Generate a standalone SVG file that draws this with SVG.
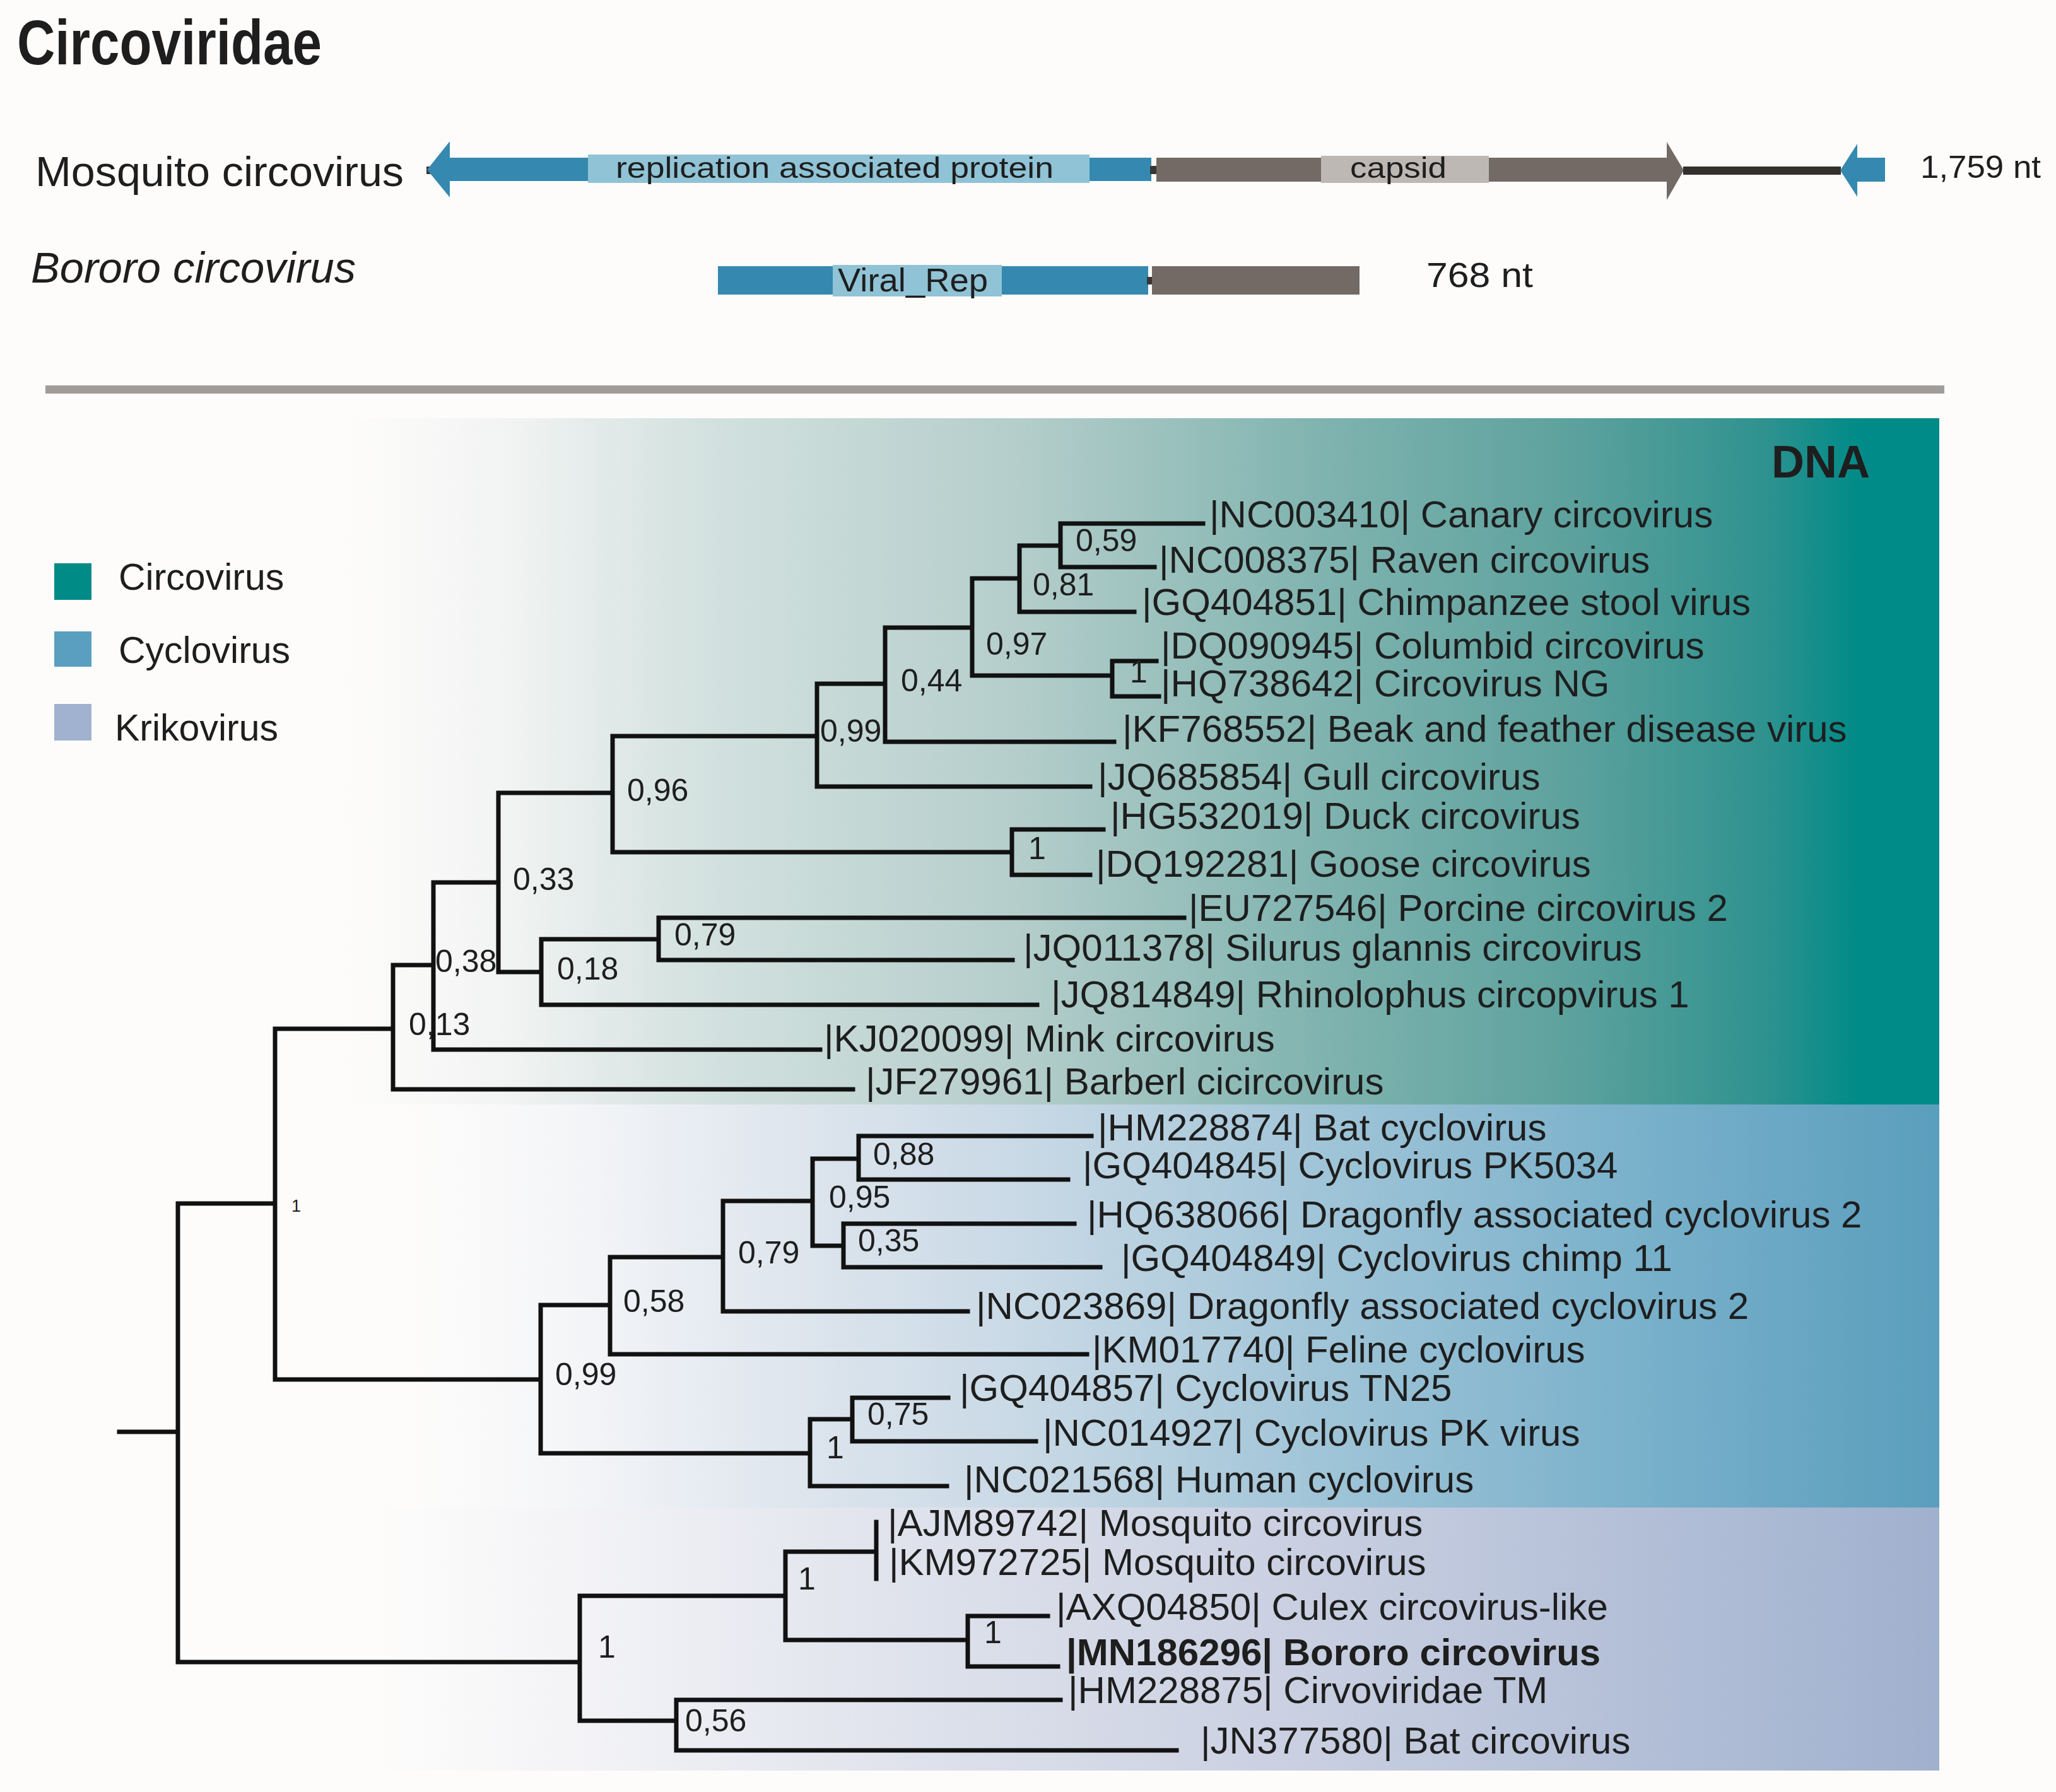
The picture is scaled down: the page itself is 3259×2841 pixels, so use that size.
<svg xmlns="http://www.w3.org/2000/svg" width="3259" height="2841" viewBox="0 0 3259 2841">
<defs>
<style>
.t{font-family:"Liberation Sans",Arial,sans-serif;fill:#1e1e1e}
.leaf{font-family:"Liberation Sans",Arial,sans-serif;font-size:60px;fill:#1e1e1e}
.sup{font-family:"Liberation Sans",Arial,sans-serif;font-size:50px;fill:#1e1e1e}
.small{font-family:"Liberation Sans",Arial,sans-serif;font-size:27px;fill:#1e1e1e}
.br{stroke:#111;stroke-width:7;fill:none;stroke-linecap:square}
.blue{fill:#3589b0}
.lblue{fill:#90c3d5}
.grey{fill:#736a65}
</style>
<linearGradient id="gTeal" gradientUnits="userSpaceOnUse" x1="545" y1="0" x2="3074" y2="0">
<stop offset="0" stop-color="#fdfcfb"/>
<stop offset="0.10" stop-color="#f2f4f3"/>
<stop offset="0.22" stop-color="#d4e2e0"/>
<stop offset="0.42" stop-color="#b5cecb"/>
<stop offset="0.615" stop-color="#7fb3af"/>
<stop offset="0.773" stop-color="#5ca19d"/>
<stop offset="0.89" stop-color="#2f928f"/>
<stop offset="0.95" stop-color="#008b88"/>
<stop offset="1" stop-color="#008b88"/>
</linearGradient>
<linearGradient id="gCyclo" gradientUnits="userSpaceOnUse" x1="650" y1="0" x2="3074" y2="0">
<stop offset="0" stop-color="#fdfcfb"/>
<stop offset="0.10" stop-color="#f5f6f8"/>
<stop offset="0.245" stop-color="#dfe6ee"/>
<stop offset="0.41" stop-color="#c7d8e5"/>
<stop offset="0.60" stop-color="#9fc4d7"/>
<stop offset="0.80" stop-color="#7ab1cb"/>
<stop offset="1" stop-color="#5a9ebd"/>
</linearGradient>
<linearGradient id="gKriko" gradientUnits="userSpaceOnUse" x1="600" y1="0" x2="3074" y2="0">
<stop offset="0" stop-color="#fdfcfb"/>
<stop offset="0.12" stop-color="#f4f4f7"/>
<stop offset="0.32" stop-color="#e1e4ed"/>
<stop offset="0.57" stop-color="#cbd1e2"/>
<stop offset="0.81" stop-color="#b3bfd7"/>
<stop offset="1" stop-color="#a0b1ce"/>
</linearGradient>
</defs>

<rect x="0" y="0" width="3259" height="2841" fill="#fdfcfb"/>

<!-- Title -->
<g id="title">
<text class="t" x="27" y="102" font-size="100" font-weight="bold" textLength="483" lengthAdjust="spacingAndGlyphs" fill="#111">Circoviridae</text>
</g>

<!-- Genome maps -->
<g id="mosquito-genome">
<text class="t" x="56" y="295" font-size="67" textLength="584" lengthAdjust="spacingAndGlyphs">Mosquito circovirus</text>
<rect x="676" y="264" width="9" height="12" fill="#3a3632"/>
<polygon class="blue" points="677,269 713,224 713,313"/>
<rect class="blue" x="712" y="250" width="1113" height="37"/>
<rect class="lblue" x="932" y="245" width="795" height="45"/>
<text class="t" x="976" y="282" font-size="46" textLength="694" lengthAdjust="spacingAndGlyphs">replication associated protein</text>
<rect x="1823" y="263" width="12" height="13" fill="#3a3632"/>
<rect class="grey" x="1833" y="250" width="810" height="38"/>
<rect x="2094" y="247" width="266" height="43" fill="#bdb8b3"/>
<text class="t" x="2140" y="282" font-size="46" textLength="153" lengthAdjust="spacingAndGlyphs">capsid</text>
<polygon class="grey" points="2642,225 2669,270 2642,317"/>
<rect x="2668" y="264" width="250" height="13" fill="#34302b"/>
<polygon class="blue" points="2917,270 2944,228 2944,312"/>
<rect class="blue" x="2943" y="250" width="45" height="38"/>
<text class="t" x="3044" y="282" font-size="50" textLength="191" lengthAdjust="spacingAndGlyphs">1,759 nt</text>
</g>

<g id="bororo-genome">
<text class="t" x="49" y="448" font-size="68" font-style="italic" textLength="515" lengthAdjust="spacingAndGlyphs">Bororo circovirus</text>
<rect class="blue" x="1138" y="422" width="682" height="45"/>
<rect class="lblue" x="1320" y="420" width="268" height="50"/>
<text class="t" x="1328" y="462" font-size="52" textLength="238" lengthAdjust="spacingAndGlyphs">Viral_Rep</text>
<rect x="1818" y="439" width="10" height="12" fill="#3a3632"/>
<rect class="grey" x="1826" y="422" width="329" height="45"/>
<text class="t" x="2261" y="455" font-size="56" textLength="169" lengthAdjust="spacingAndGlyphs">768 nt</text>
</g>

<!-- Separator -->
<rect id="separator" x="72" y="611" width="3010" height="13" fill="#a29c98"/>

<!-- Clade bands -->
<g id="bands">
<rect id="band-circovirus" x="545" y="663" width="2529" height="1088" fill="url(#gTeal)"/>
<rect id="band-cyclovirus" x="650" y="1751" width="2424" height="639" fill="url(#gCyclo)"/>
<rect id="band-krikovirus" x="600" y="2390" width="2474" height="417" fill="url(#gKriko)"/>
<text class="t" x="2808" y="757" font-size="72" font-weight="bold" fill="#2a2826">DNA</text>
</g>

<!-- Legend -->
<g id="legend">
<g id="legend-circovirus">
<rect x="86" y="893" width="59" height="58" fill="#008b87"/>
<text class="t" x="188" y="935" font-size="59">Circovirus</text>
</g>
<g id="legend-cyclovirus">
<rect x="86" y="1001" width="59" height="56" fill="#5a9fbf"/>
<text class="t" x="188" y="1051" font-size="59">Cyclovirus</text>
</g>
<g id="legend-krikovirus">
<rect x="86" y="1116" width="59" height="58" fill="#a0b2cf"/>
<text class="t" x="182" y="1174" font-size="59">Krikovirus</text>
</g>
</g>

<!-- Tree branches -->
<g id="connectors">
<path class="br" d="
M189 2270 H282 M282 1908 V2635
M282 1908 H436 M436 1631 V2187
M436 1631 H623 M623 1530 V1727
M623 1530 H687 M687 1399 V1664
M687 1399 H790 M790 1257 V1541
M790 1257 H971 M971 1167 V1351
M971 1167 H1295 M1295 1084 V1247
M1295 1084 H1403 M1403 995 V1176
M1403 995 H1541 M1541 917 V1071
M1541 917 H1616 M1616 865 V970
M1616 865 H1681 M1681 830 V899
M1681 830 H1907
M1681 899 H1830
M1616 970 H1798
M1541 1071 H1763 M1763 1048 V1104
M1763 1048 H1833
M1763 1104 H1837
M1403 1176 H1766
M1295 1247 H1728
M971 1351 H1604 M1604 1315 V1387
M1604 1315 H1749
M1604 1387 H1728
M790 1541 H858 M858 1489 V1593
M858 1489 H1044 M1044 1455 V1522
M1044 1455 H1877
M1044 1522 H1605
M858 1593 H1644
M687 1664 H1300
M623 1727 H1352
M436 2187 H857 M857 2069 V2304
M857 2069 H967 M967 1993 V2147
M967 1993 H1146 M1146 1904 V2079
M1146 1904 H1288 M1288 1837 V1975
M1288 1837 H1361 M1361 1801 V1870
M1361 1801 H1730
M1361 1870 H1693
M1288 1975 H1337 M1337 1940 V2009
M1337 1940 H1703
M1337 2009 H1744
M1146 2079 H1534
M967 2147 H1723
M857 2304 H1284 M1284 2250 V2356
M1284 2250 H1351 M1351 2216 V2285
M1351 2216 H1503
M1351 2285 H1642
M1284 2356 H1501
M282 2635 H919 M919 2530 V2728
M919 2530 H1245 M1245 2460 V2600
M1245 2460 H1389 M1389 2413 V2503
M1245 2600 H1534 M1534 2562 V2642
M1534 2562 H1661
M1534 2642 H1677
M919 2728 H1072 M1072 2695 V2775
M1072 2695 H1681
M1072 2775 H1865"/>
</g>

<!-- Support values -->
<g id="support-values">
<text class="sup" x="1705" y="874">0,59</text>
<text class="sup" x="1637" y="944">0,81</text>
<text class="sup" x="1563" y="1038">0,97</text>
<text class="sup" x="1791" y="1082">1</text>
<text class="sup" x="1428" y="1096">0,44</text>
<text class="sup" x="1300" y="1176">0,99</text>
<text class="sup" x="994" y="1270">0,96</text>
<text class="sup" x="1630" y="1362">1</text>
<text class="sup" x="813" y="1411">0,33</text>
<text class="sup" x="1069" y="1499">0,79</text>
<text class="sup" x="690" y="1541">0,38</text>
<text class="sup" x="883" y="1553">0,18</text>
<text class="sup" x="648" y="1641">0,13</text>
<text class="small" x="462" y="1921">1</text>
<text class="sup" x="1384" y="1847">0,88</text>
<text class="sup" x="1314" y="1915">0,95</text>
<text class="sup" x="1360" y="1984">0,35</text>
<text class="sup" x="1170" y="2003">0,79</text>
<text class="sup" x="988" y="2080">0,58</text>
<text class="sup" x="880" y="2196">0,99</text>
<text class="sup" x="1375" y="2259">0,75</text>
<text class="sup" x="1310" y="2312">1</text>
<text class="sup" x="1265" y="2520">1</text>
<text class="sup" x="1560" y="2605">1</text>
<text class="sup" x="948" y="2628">1</text>
<text class="sup" x="1086" y="2745">0,56</text>
</g>

<!-- Leaf labels -->
<g id="leaf-NC003410"><text class="leaf" x="1917" y="836">|NC003410| Canary circovirus</text></g>
<g id="leaf-NC008375"><text class="leaf" x="1837" y="908">|NC008375| Raven circovirus</text></g>
<g id="leaf-GQ404851"><text class="leaf" x="1810" y="975">|GQ404851| Chimpanzee stool virus</text></g>
<g id="leaf-DQ090945"><text class="leaf" x="1840" y="1044">|DQ090945| Columbid circovirus</text></g>
<g id="leaf-HQ738642"><text class="leaf" x="1840" y="1104">|HQ738642| Circovirus NG</text></g>
<g id="leaf-KF768552"><text class="leaf" x="1779" y="1176">|KF768552| Beak and feather disease virus</text></g>
<g id="leaf-JQ685854"><text class="leaf" x="1740" y="1252">|JQ685854| Gull circovirus</text></g>
<g id="leaf-HG532019"><text class="leaf" x="1760" y="1314">|HG532019| Duck circovirus</text></g>
<g id="leaf-DQ192281"><text class="leaf" x="1737" y="1390">|DQ192281| Goose circovirus</text></g>
<g id="leaf-EU727546"><text class="leaf" x="1884" y="1460">|EU727546| Porcine circovirus 2</text></g>
<g id="leaf-JQ011378"><text class="leaf" x="1622" y="1523">|JQ011378| Silurus glannis circovirus</text></g>
<g id="leaf-JQ814849"><text class="leaf" x="1666" y="1597">|JQ814849| Rhinolophus circopvirus 1</text></g>
<g id="leaf-KJ020099"><text class="leaf" x="1306" y="1667">|KJ020099| Mink circovirus</text></g>
<g id="leaf-JF279961"><text class="leaf" x="1372" y="1735">|JF279961| Barberl cicircovirus</text></g>
<g id="leaf-HM228874"><text class="leaf" x="1740" y="1808">|HM228874| Bat cyclovirus</text></g>
<g id="leaf-GQ404845"><text class="leaf" x="1716" y="1868">|GQ404845| Cyclovirus PK5034</text></g>
<g id="leaf-HQ638066"><text class="leaf" x="1723" y="1946">|HQ638066| Dragonfly associated cyclovirus 2</text></g>
<g id="leaf-GQ404849"><text class="leaf" x="1777" y="2015">|GQ404849| Cyclovirus chimp 11</text></g>
<g id="leaf-NC023869"><text class="leaf" x="1547" y="2091">|NC023869| Dragonfly associated cyclovirus 2</text></g>
<g id="leaf-KM017740"><text class="leaf" x="1731" y="2160">|KM017740| Feline cyclovirus</text></g>
<g id="leaf-GQ404857"><text class="leaf" x="1521" y="2221">|GQ404857| Cyclovirus TN25</text></g>
<g id="leaf-NC014927"><text class="leaf" x="1653" y="2292">|NC014927| Cyclovirus PK virus</text></g>
<g id="leaf-NC021568"><text class="leaf" x="1528" y="2366">|NC021568| Human cyclovirus</text></g>
<g id="leaf-AJM89742"><text class="leaf" x="1407" y="2435">|AJM89742| Mosquito circovirus</text></g>
<g id="leaf-KM972725"><text class="leaf" x="1409" y="2497">|KM972725| Mosquito circovirus</text></g>
<g id="leaf-AXQ04850"><text class="leaf" x="1674" y="2568">|AXQ04850| Culex circovirus-like</text></g>
<g id="leaf-MN186296"><text class="leaf" x="1690" y="2640" font-weight="bold">|MN186296| Bororo circovirus</text></g>
<g id="leaf-HM228875"><text class="leaf" x="1693" y="2700">|HM228875| Cirvoviridae TM</text></g>
<g id="leaf-JN377580"><text class="leaf" x="1903" y="2780">|JN377580| Bat circovirus</text></g>
</svg>
